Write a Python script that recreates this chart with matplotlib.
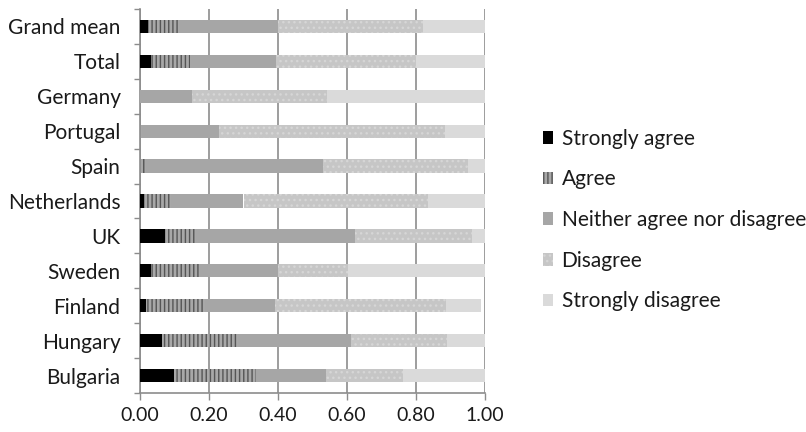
import matplotlib
matplotlib.use("Agg")
import matplotlib.pyplot as plt
from matplotlib.patches import Patch
import numpy as np

categories = ["Grand mean", "Total", "Germany", "Portugal", "Spain", "Netherlands",
              "UK", "Sweden", "Finland", "Hungary", "Bulgaria"]
series_names = ["Strongly agree", "Agree", "Neither agree nor disagree",
                "Disagree", "Strongly disagree"]
strongly_agree = [0.024, 0.031, 0.000, 0.000, 0.000, 0.012, 0.072, 0.032, 0.017, 0.063, 0.099]
agree          = [0.090, 0.114, 0.000, 0.005, 0.016, 0.077, 0.090, 0.142, 0.171, 0.222, 0.237]
neither        = [0.287, 0.248, 0.151, 0.225, 0.514, 0.211, 0.461, 0.227, 0.203, 0.327, 0.203]
disagree       = [0.418, 0.407, 0.390, 0.653, 0.422, 0.534, 0.338, 0.203, 0.496, 0.279, 0.224]
strongly_dis   = [0.181, 0.200, 0.459, 0.117, 0.048, 0.166, 0.039, 0.396, 0.100, 0.109, 0.237]
xticks = [0.0, 0.2, 0.4, 0.6, 0.8, 1.0]
xtick_labels = ["0.00", "0.20", "0.40", "0.60", "0.80", "1.00"]

plt.rcParams['font.family'] = ['Lato', 'DejaVu Sans']
plt.rcParams['hatch.linewidth'] = 1.0

fig = plt.figure(figsize=(8.06, 4.32), dpi=100)
ax = fig.add_axes([140/806, 1 - 393/432, 345/806, 384/432])

series = [strongly_agree, agree, neither, disagree, strongly_dis]
styles = [
    dict(color="#000000", hatch=None, edge="#000000"),
    dict(color="#a8a8a8", hatch="||||", edge="#555555"),
    dict(color="#a6a6a6", hatch=None, edge="#a6a6a6"),
    dict(color="#c6c6c6", hatch="...", edge="#d6d6d6"),
    dict(color="#dadada", hatch=None, edge="#dadada"),
]

y = np.arange(len(categories))
left = np.zeros(len(categories))
for vals, st, name in zip(series, styles, series_names):
    vals = np.array(vals)
    ax.barh(y, vals, left=left, height=0.38, color=st["color"],
            edgecolor=st["edge"], hatch=st["hatch"], linewidth=0, label=name, zorder=3)
    left += vals

fs = 15
ax.set_ylim(len(categories) - 0.5, -0.5)
ax.set_xlim(0, 1.0)
ax.set_yticks(y)
ax.set_yticklabels(categories, fontsize=fs, color="#1a1a1a")
ax.set_yticks(np.arange(-0.5, len(categories), 1.0), minor=True)
ax.tick_params(axis='y', which='major', length=0, pad=14)
ax.tick_params(axis='y', which='minor', length=4, color="#8c8c8c", width=1)
ax.set_xticks(xticks)
ax.set_xticklabels(xtick_labels, fontsize=14, color="#1a1a1a")
ax.tick_params(axis='x', length=5, color="#8c8c8c", width=1, pad=5)
ax.grid(axis='x', color="#8c8c8c", linewidth=1.2, zorder=0)
for s in ["top", "right"]:
    ax.spines[s].set_visible(False)
ax.spines["left"].set_color("#8c8c8c")
ax.spines["bottom"].set_color("#8c8c8c")
ax.spines["left"].set_linewidth(1.2)
ax.spines["bottom"].set_linewidth(1.2)

handles = [Patch(facecolor=st["color"], edgecolor=st["edge"], hatch=st["hatch"],
                 linewidth=0, label=n) for st, n in zip(styles, series_names)]
fig.legend(handles=handles, loc="upper left", bbox_to_anchor=(524/806, 1 - 110/432),
           frameon=False, fontsize=fs, handlelength=0.5, handleheight=0.55,
           handletextpad=0.4, labelspacing=0.99, labelcolor="#1a1a1a")

fig.savefig("out.png", dpi=100)
